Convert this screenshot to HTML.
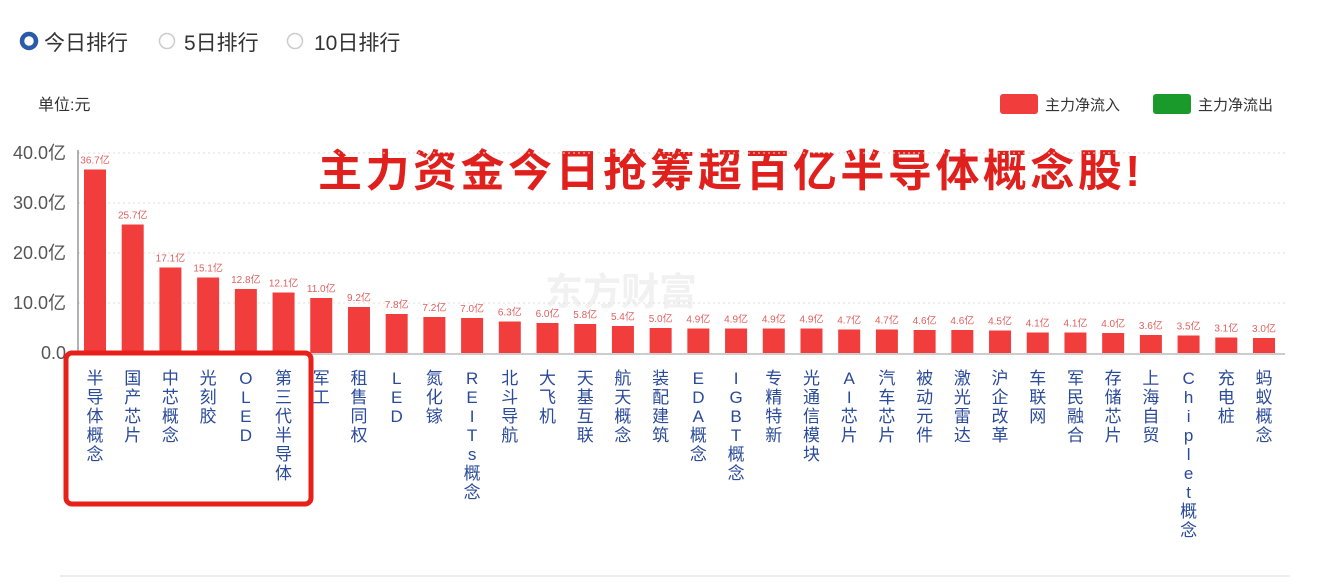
<!DOCTYPE html>
<html><head><meta charset="utf-8"><style>
body{margin:0;width:1320px;height:586px;background:#fff;overflow:hidden;font-family:"Liberation Sans","Noto Sans CJK SC",sans-serif;}
svg{position:absolute;left:0;top:0}
</style></head><body>
<svg width="1320" height="586" id="svg">
  <g>
    <circle cx="29" cy="41" r="7" fill="none" stroke="#2a5ba8" stroke-width="4.5"/>
    <text x="44" y="50" font-size="21" fill="#333">今日排行</text>
    <circle cx="167" cy="41" r="7.5" fill="none" stroke="#ccc" stroke-width="1.5"/>
    <text x="184" y="50" font-size="21" fill="#333">5日排行</text>
    <circle cx="295" cy="41" r="7.5" fill="none" stroke="#ccc" stroke-width="1.5"/>
    <text x="314" y="50" font-size="21" fill="#333">10日排行</text>
  </g>
  <text x="38" y="110" font-size="16" fill="#333">单位:元</text>
  <g>
    <rect x="1000" y="94" width="38" height="20" rx="3" fill="#f23d3d"/>
    <text x="1045" y="110" font-size="15" fill="#333">主力净流入</text>
    <rect x="1153" y="94" width="38" height="20" rx="3" fill="#1a9a2a"/>
    <text x="1198" y="110" font-size="15" fill="#333">主力净流出</text>
  </g>
  <text x="318" y="186" font-size="44" font-weight="bold" fill="#e0201c" textLength="822" lengthAdjust="spacing">主力资金今日抢筹超百亿半导体概念股!</text>
  <text x="545" y="305" font-size="38" font-weight="bold" fill="#000" opacity="0.05">东方财富</text>
  <g id="grid"></g><g id="bars"></g><g id="xl"></g>
  <line x1="78" y1="150" x2="78" y2="354" stroke="#666" stroke-width="1"/>
  <line x1="78" y1="354" x2="1285" y2="354" stroke="#999" stroke-width="1"/>
  <rect x="66" y="353" width="245" height="151" rx="6" fill="none" stroke="#e8201a" stroke-width="5"/>
  <line x1="60" y1="576" x2="1290" y2="576" stroke="#ddd" stroke-width="1"/>
</svg>
<script>
const categories=["半导体概念","国产芯片","中芯概念","光刻胶","OLED","第三代半导体","军工","租售同权","LED","氮化镓","REITs概念","北斗导航","大飞机","天基互联","航天概念","装配建筑","EDA概念","IGBT概念","专精特新","光通信模块","AI芯片","汽车芯片","被动元件","激光雷达","沪企改革","车联网","军民融合","存储芯片","上海自贸","Chiplet概念","充电桩","蚂蚁概念"];
const values=[36.7,25.7,17.1,15.1,12.8,12.1,11.0,9.2,7.8,7.2,7.0,6.3,6.0,5.8,5.4,5.0,4.9,4.9,4.9,4.9,4.7,4.7,4.6,4.6,4.5,4.1,4.1,4.0,3.6,3.5,3.1,3.0];
const yTicks=[0,10,20,30,40];
const yTickLabels=["0.0","10.0亿","20.0亿","30.0亿","40.0亿"];
const NS="http://www.w3.org/2000/svg";
const y0=353,yMax=40,yTop=153;
const yS=v=>y0-(v/yMax)*(y0-yTop);
const x0=95,step=(1264-95)/(categories.length-1);
const xS=i=>x0+i*step;
const mk=(t,a)=>{const e=document.createElementNS(NS,t);for(const k in a)e.setAttribute(k,a[k]);return e;};
const grid=document.getElementById('grid'),bars=document.getElementById('bars'),xl=document.getElementById('xl');
yTicks.forEach((t,i)=>{
  if(t>0){const l=mk('line',{x1:78,x2:1285,y1:yS(t),y2:yS(t),stroke:'#ddd','stroke-dasharray':'2,3'});
  
  grid.appendChild(l);}
  const tx=mk('text',{x:66,y:yS(t)+6,'font-size':18,fill:'#555','text-anchor':'end'});
  tx.textContent=yTickLabels[i];
  
  grid.appendChild(tx);
});
categories.forEach((c,i)=>{
  const v=values[i],x=xS(i);
  const r=mk('rect',{x:x-11,y:yS(v),width:22,height:y0-yS(v),fill:'#f23d3d'});
  
  bars.appendChild(r);
  const vl=mk('text',{x:x,y:yS(v)-6,'font-size':10,fill:'#e06060','text-anchor':'middle'});
  vl.textContent=v.toFixed(1)+'亿';
  
  bars.appendChild(vl);
  [...c].forEach((ch,j)=>{
    const t=mk('text',{x:x,y:384+j*19,'font-size':17,fill:'#2a4a9a','text-anchor':'middle'});
    t.textContent=ch;
    
    xl.appendChild(t);
  });
});
</script>
</body></html>
